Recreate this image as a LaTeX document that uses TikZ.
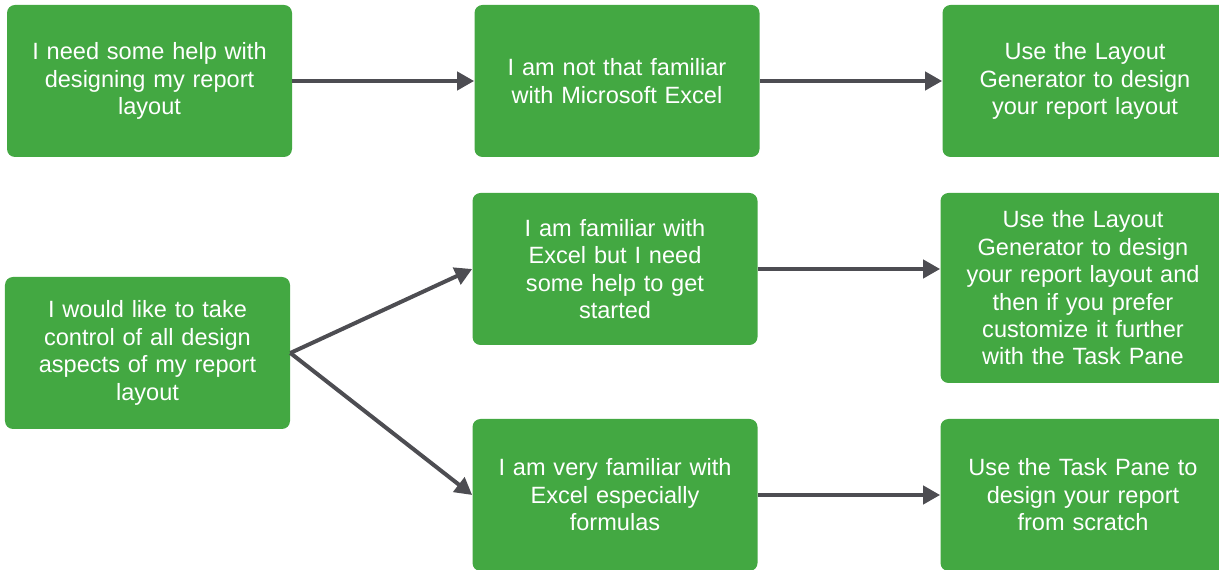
\documentclass[tikz,border=0pt]{standalone}
\usepackage{fontspec}
\setmainfont{Liberation Sans}
\usepackage{xcolor}
\usetikzlibrary{arrows.meta}
\definecolor{boxgreen}{RGB}{67,168,66}
\definecolor{arrowgray}{RGB}{77,77,82}
\tikzset{
    chooser/.style={
        font=\fontsize{13.4}{15.6}\selectfont,
        block/.style={rectangle, rounded corners=0.16cm, fill=boxgreen, draw=none, text=white,
            minimum width=5.7cm, minimum height=3.04cm, inner sep=0pt, text width=5.5cm, align=center},
        tall_block/.style={block, minimum height=3.8cm},
        arrow/.style={draw=arrowgray, line width=0.08cm, -{Triangle[length=0.34cm, width=0.36cm]}}
    }
}
\begin{document}
\begin{tikzpicture}[chooser]
        \useasboundingbox (0,0) rectangle (24.38,11.4);
        \clip (0,0) rectangle (24.38,11.4);

        % Top row
        \node[block] (help) at (2.99, 9.78) {I need some help with\\designing my report\\layout};
        \node[block] (notfamiliar) at (12.34, 9.78) {I am not that familiar\\with Microsoft Excel};
        \node[block] (generator) at (21.70, 9.78) {Use the Layout\\Generator to design\\your report layout};

        % Control branch
        \node[block] (control) at (2.95, 4.34) {I would like to take\\control of all design\\aspects of my report\\layout};
        \node[block] (familiar) at (12.30, 6.02) {I am familiar with\\Excel but I need\\some help to get\\started};
        \node[tall_block] (customize) at (21.66, 5.64) {Use the Layout\\Generator to design\\your report layout and\\then if you prefer\\customize it further\\with the Task Pane};
        \node[block] (veryfamiliar) at (12.30, 1.50) {I am very familiar with\\Excel especially\\formulas};
        \node[block] (taskpane) at (21.66, 1.50) {Use the Task Pane to\\design your report\\from scratch};

        % Connectors
        \draw[arrow] (help.east) -- (notfamiliar.west);
        \draw[arrow] (notfamiliar.east) -- (generator.west);
        \draw[arrow] (control.east) -- (familiar.west);
        \draw[arrow] (control.east) -- (veryfamiliar.west);
        \draw[arrow] (familiar.east) -- (familiar.east -| customize.west);
        \draw[arrow] (veryfamiliar.east) -- (taskpane.west);

    \end{tikzpicture}
\end{document}
